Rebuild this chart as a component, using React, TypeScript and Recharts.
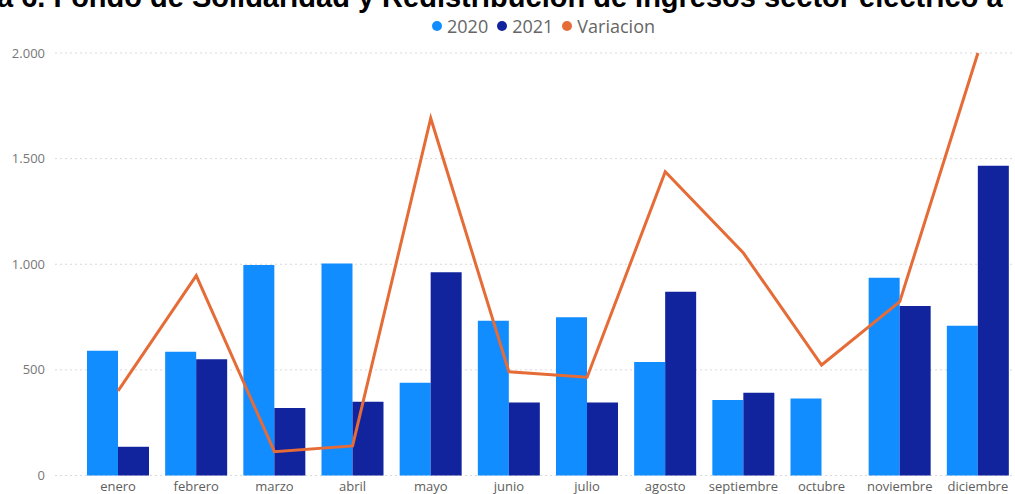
import React from 'react';
import { ComposedChart, Bar, Line, XAxis, YAxis, CartesianGrid } from 'recharts';

const months = ['enero', 'febrero', 'marzo', 'abril', 'mayo', 'junio', 'julio', 'agosto', 'septiembre', 'octubre', 'noviembre', 'diciembre'];
const values2020 = [591, 586, 996, 1004, 439, 733, 749, 537, 357, 364, 936, 709];
const values2021: (number | null)[] = [136, 550, 320, 349, 962, 346, 345, 870, 392, null, 802, 1466];
const variacion = [401, 946, 113, 140, 1691, 491, 465, 1438, 1053, 523, 823, 2000];
const yTicks = [0, 500, 1000, 1500, 2000];

const titleText = 'a 6. Fondo de Solidaridad y Redistribución de Ingresos sector eléctrico a';

const series = [
    { key: 'v2020', name: '2020', color: '#118DFF' },
    { key: 'v2021', name: '2021', color: '#12239E' },
    { key: 'variacion', name: 'Variacion', color: '#E66C37' },
];

const data = months.map((m, i) => ({
    month: m,
    v2020: values2020[i],
    v2021: values2021[i],
    variacion: variacion[i],
}));

const fmt = (v: number) => v.toLocaleString('de-DE');

export default function App() {
    return (
        <div style={{ position: 'absolute', left: 0, top: 0, width: 1015, height: 494, overflow: 'hidden', background: '#fff', fontFamily: '"Open Sans", sans-serif' }}>
            {/* title, cropped at the top in the source image */}
            <div style={{ position: 'absolute', left: -3, top: -17, whiteSpace: 'nowrap', fontFamily: '"Liberation Sans", Arial, sans-serif', fontWeight: 'bold', fontSize: 29, lineHeight: '29px', color: '#000' }}>
                {titleText}
            </div>
            {/* legend */}
            <div style={{ position: 'absolute', left: 432, top: 14, display: 'flex', alignItems: 'center', fontSize: 18, lineHeight: '24px', color: '#666' }}>
                {series.map(s => (
                    <div key={s.key} style={{ display: 'flex', alignItems: 'center', marginRight: 9 }}>
                        <span style={{ width: 10, height: 10, borderRadius: 5, background: s.color, marginRight: 5, display: 'inline-block' }} />
                        <span>{s.name}</span>
                    </div>
                ))}
            </div>
            <ComposedChart
                width={1017}
                height={494}
                data={data}
                margin={{ top: 53, right: 0, bottom: 0, left: 0 }}
                barCategoryGap={8}
                barGap={0}
                style={{ position: 'absolute', left: 0, top: 0 }}
            >
                <CartesianGrid vertical={false} stroke="#d9d9d9" strokeDasharray="2 3" />
                <XAxis
                    dataKey="month"
                    height={18.5}
                    axisLine={false}
                    tickLine={false}
                    tickSize={0}
                    tickMargin={6}
                    padding={{ left: 24, right: 0 }}
                    interval={0}
                    tick={{ fill: '#605E5C', fontSize: 13 }}
                />
                <YAxis
                    width={55}
                    domain={[0, 2000]}
                    ticks={yTicks}
                    axisLine={false}
                    tickLine={false}
                    tickSize={0}
                    tickMargin={10}
                    tickFormatter={fmt}
                    tick={{ fill: '#777', fontSize: 13 }}
                />
                <Bar dataKey="v2020" name="2020" fill="#118DFF" isAnimationActive={false} />
                <Bar dataKey="v2021" name="2021" fill="#12239E" isAnimationActive={false} />
                <Line
                    type="linear"
                    dataKey="variacion"
                    name="Variacion"
                    stroke="#E66C37"
                    strokeWidth={3}
                    dot={false}
                    activeDot={false}
                    isAnimationActive={false}
                />
            </ComposedChart>
        </div>
    );
}
